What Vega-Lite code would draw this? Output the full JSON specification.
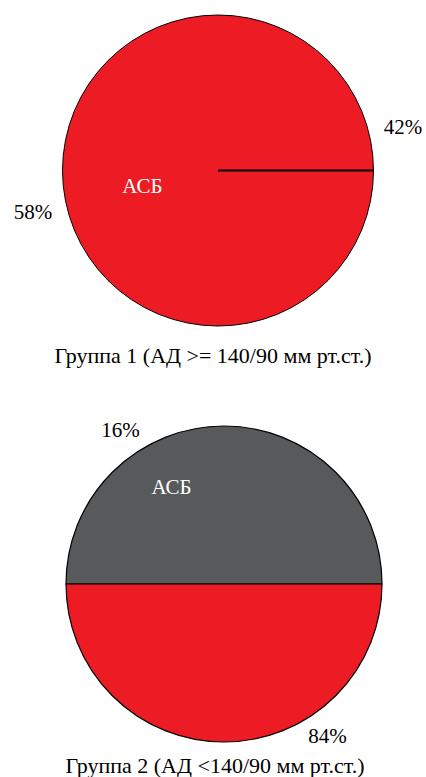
{
  "$schema": "https://vega.github.io/schema/vega-lite/v6.json",
  "background": "white",
  "padding": {"left": 0, "top": 13, "right": 0, "bottom": 0},
  "bounds": "flush",
  "spacing": 100,
  "config": {"view": {"stroke": null}, "font": "Liberation Serif", "text": {"font": "Liberation Serif"}, "title": {"font": "Liberation Serif"}},
  "datasets": {
    "g1": [
      {"seg": "42%", "pct": 42, "name": ""},
      {"seg": "58%", "pct": 58, "name": "АСБ"}
    ],
    "g1fill": [{"part": "АСБ", "share": 100}],
    "g1line": [{"at": 0.25}],
    "g2": [
      {"seg": "84%", "pct": 84, "name": ""},
      {"seg": "16%", "pct": 16, "name": "АСБ"}
    ],
    "g2fill": [
      {"part": "АСБ", "share": 50},
      {"part": "остальные", "share": 50}
    ]
  },
  "vconcat": [
    {
      "width": 426,
      "height": 311,
      "title": {"text": "Группа 1 (АД >= 140/90 мм рт.ст.)", "orient": "bottom", "offset": 18, "dx": 0, "fontSize": 22, "fontWeight": "normal", "font": "Liberation Serif", "color": "black"},
      "layer": [
        {
          "data": {"name": "g1fill"},
          "mark": {"type": "arc", "x": {"expr": "width/2+5"}, "fill": "#ED1C24", "stroke": "black", "strokeWidth": 1},
          "encoding": {"theta": {"field": "share", "type": "quantitative"}}
        },
        {
          "data": {"name": "g1line"},
          "mark": {"type": "arc", "x": {"expr": "width/2+5"}, "fill": "transparent", "stroke": "black", "strokeWidth": 2},
          "encoding": {
            "theta": {"field": "at", "type": "quantitative", "stack": null, "scale": {"domain": [0, 1]}},
            "theta2": {"field": "at"}
          }
        },
        {
          "data": {"name": "g1"},
          "mark": {"type": "text", "x": {"expr": "width/2+5"}, "radius": 171, "fontSize": 21, "font": "Liberation Serif", "color": "black", "align": {"expr": "datum.pct_start + datum.pct_end < 100 ? 'left' : 'right'"}},
          "encoding": {
            "theta": {"field": "pct", "type": "quantitative", "stack": true},
            "detail": {"field": "seg"},
            "order": {"field": "pct", "sort": "ascending"},
            "text": {"field": "seg"}
          }
        },
        {
          "data": {"name": "g1"},
          "mark": {"type": "text", "x": {"expr": "width/2+5"}, "radius": 78, "dy": -3, "fontSize": 21, "font": "Liberation Serif", "color": "white"},
          "encoding": {
            "theta": {"field": "pct", "type": "quantitative", "stack": true},
            "detail": {"field": "seg"},
            "order": {"field": "pct", "sort": "ascending"},
            "text": {"field": "name"}
          }
        }
      ],
      "resolve": {"scale": {"theta": "independent"}}
    },
    {
      "width": 426,
      "height": 316,
      "title": {"text": "Группа 2 (АД <140/90 мм рт.ст.)", "orient": "bottom", "offset": 9, "dx": 2, "fontSize": 22, "fontWeight": "normal", "font": "Liberation Serif", "color": "black"},
      "layer": [
        {
          "data": {"name": "g2fill"},
          "mark": {"type": "arc", "x": {"expr": "width/2+11"}, "stroke": "black", "strokeWidth": 1.2},
          "encoding": {
            "theta": {"field": "share", "type": "quantitative", "scale": {"range": [-1.5707963, 4.7123890]}},
            "color": {"field": "part", "type": "nominal", "scale": {"domain": ["АСБ", "остальные"], "range": ["#58595B", "#ED1C24"]}, "legend": null},
            "order": {"field": "part", "type": "ordinal", "sort": "ascending"}
          }
        },
        {
          "data": {"name": "g2"},
          "mark": {"type": "text", "x": {"expr": "width/2+11"}, "radius": 175, "fontSize": 21, "font": "Liberation Serif", "color": "black", "align": {"expr": "datum.pct_start + datum.pct_end < 100 ? 'left' : 'right'"}},
          "encoding": {
            "theta": {"field": "pct", "type": "quantitative", "stack": true},
            "detail": {"field": "seg"},
            "order": {"field": "pct", "sort": "descending"},
            "text": {"field": "seg"}
          }
        },
        {
          "data": {"name": "g2"},
          "mark": {"type": "text", "x": {"expr": "width/2+11"}, "radius": 109, "fontSize": 21, "font": "Liberation Serif", "color": "white"},
          "encoding": {
            "theta": {"field": "pct", "type": "quantitative", "stack": true},
            "detail": {"field": "seg"},
            "order": {"field": "pct", "sort": "descending"},
            "text": {"field": "name"}
          }
        }
      ],
      "resolve": {"scale": {"theta": "independent", "color": "independent"}}
    }
  ]
}
